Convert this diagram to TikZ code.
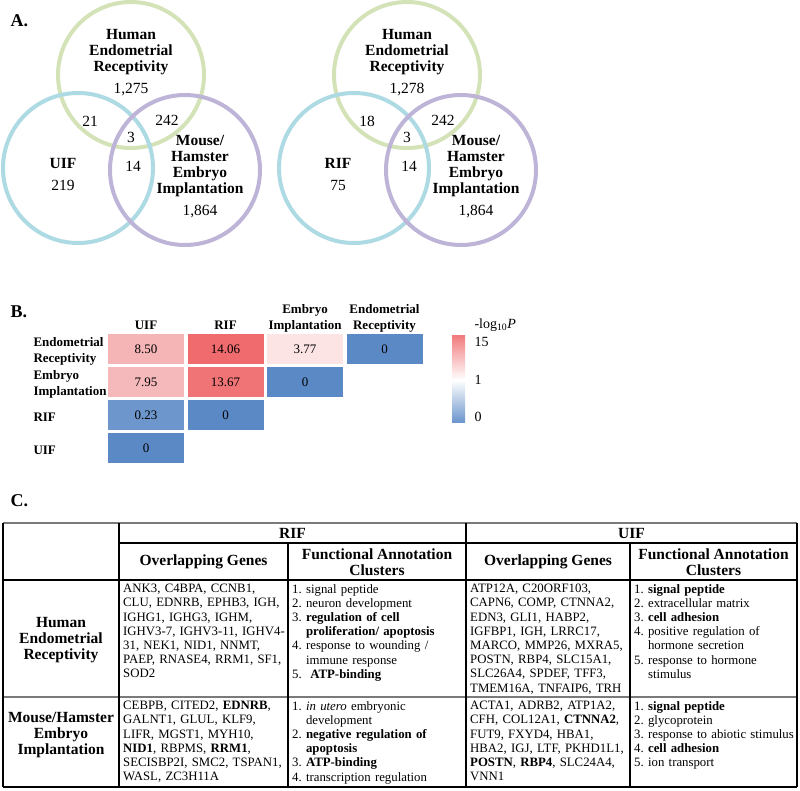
\documentclass[tikz,border=0pt]{standalone}
\usepackage{fontspec}
\setmainfont{Liberation Serif}
\usetikzlibrary{positioning}
\frenchspacing
\definecolor{herGreen}{HTML}{D4E2B8}
\definecolor{ifBlue}{HTML}{ADDAE3}
\definecolor{eiPurple}{HTML}{BEB4D7}
\definecolor{hmBlue}{HTML}{5B89C6}
\definecolor{hmBlueLt}{HTML}{6C96CC}
\definecolor{hmRed}{HTML}{F06B6E}
\definecolor{hmRedB}{HTML}{F07376}
\definecolor{hmPink}{HTML}{F5B4B6}
\definecolor{hmPinkB}{HTML}{F5B9BB}
\definecolor{hmPale}{HTML}{FCE3E4}
\definecolor{tabGray}{HTML}{7A7A7A}

\begin{document}
\begin{tikzpicture}[x=1pt,y=-1pt,
    panel/.style={anchor=west,font=\fontsize{18}{18}\selectfont\bfseries},
    vset/.style={circle,draw=#1,line width=4pt,inner sep=0pt},
    vname/.style={align=center,font=\fontsize{15.5}{16.3}\selectfont\bfseries},
    vnum/.style={font=\fontsize{15.5}{16}\selectfont},
    hlabel/.style={align=center,font=\fontsize{13}{16}\selectfont\bfseries},
    rlabel/.style={anchor=west,align=left,font=\fontsize{13}{16}\selectfont\bfseries},
    hcell/.style={fill=#1,minimum width=76pt,minimum height=30pt,inner sep=0pt,font=\fontsize{13}{15}\selectfont},
    keytext/.style={anchor=west,font=\fontsize{14}{15}\selectfont},
    tline/.style={line width=1.3pt},
    gline/.style={line width=2.2pt,draw=tabGray},
    thead/.style={align=center,font=\fontsize{15.5}{16}\selectfont\bfseries},
    cellbox/.style={anchor=north west,inner sep=0pt,text width=200pt,align=left,font=\fontsize{12.8}{14.2}\selectfont}]
\useasboundingbox (0,0) rectangle (800,790);

% panel A: venn diagrams
\node[panel] (labA) at (7,21) {A.};
\node[vset=herGreen,minimum size=146pt] (uHer) at (131,75) {};
\node[vset=ifBlue,minimum size=150pt] (uIf) at (78,168) {};
\node[vset=eiPurple,minimum size=150pt] (uEi) at (185,170) {};
\node[vname] (uHerName) at (131,52) {Human\\Endometrial\\Receptivity};
\node[vnum] (uHerNum) at (131,90) {1,275};
\node[vname] (uIfName) at (63,163) {UIF};
\node[vnum] (uIfNum) at (63,185) {219};
\node[vname] (uEiName) at (200,166) {Mouse/\\Hamster\\Embryo\\Implantation};
\node[vnum] (uEiNum) at (200,212) {1,864};
\node[vnum] (uHerIf) at (90,121) {21};
\node[vnum] (uHerEi) at (167,120) {242};
\node[vnum] (uAll) at (131,137) {3};
\node[vnum] (uIfEi) at (133,166) {14};

\node[vset=herGreen,minimum size=146pt] (rHer) at (407,75) {};
\node[vset=ifBlue,minimum size=150pt] (rIf) at (354,168) {};
\node[vset=eiPurple,minimum size=150pt] (rEi) at (461,170) {};
\node[vname] (rHerName) at (407,52) {Human\\Endometrial\\Receptivity};
\node[vnum] (rHerNum) at (407,90) {1,278};
\node[vname] (rIfName) at (338,163) {RIF};
\node[vnum] (rIfNum) at (338,185) {75};
\node[vname] (rEiName) at (476,166) {Mouse/\\Hamster\\Embryo\\Implantation};
\node[vnum] (rEiNum) at (476,212) {1,864};
\node[vnum] (rHerIf) at (367,121) {18};
\node[vnum] (rHerEi) at (443,120) {242};
\node[vnum] (rAll) at (407,137) {3};
\node[vnum] (rIfEi) at (409,166) {14};

% panel B: heatmap
\node[panel] (labB) at (7,312) {B.};
\node[hlabel] (colUif) at (146,325) {UIF};
\node[hlabel] (colRif) at (225.5,325) {RIF};
\node[hlabel] (colEi) at (305,318) {Embryo\\Implantation};
\node[hlabel] (colEr) at (384.5,318) {Endometrial\\Receptivity};
\node[rlabel] (rowEr) at (30,351) {Endometrial\\Receptivity};
\node[rlabel] (rowEi) at (30,384) {Embryo\\Implantation};
\node[rlabel] (rowRif) at (30,417) {RIF};
\node[rlabel] (rowUif) at (30,450) {UIF};
\node[hcell=hmPink] (erUif) at (146,349) {8.50};
\node[hcell=hmRed] (erRif) at (225.5,349) {14.06};
\node[hcell=hmPale] (erEi) at (305,349) {3.77};
\node[hcell=hmBlue] (erEr) at (384.5,349) {0};
\node[hcell=hmPinkB] (eiUif) at (146,382) {7.95};
\node[hcell=hmRedB] (eiRif) at (225.5,382) {13.67};
\node[hcell=hmBlue] (eiEi) at (305,382) {0};
\node[hcell=hmBlueLt] (rifUif) at (146,415) {0.23};
\node[hcell=hmBlue] (rifRif) at (225.5,415) {0};
\node[hcell=hmBlue] (uifUif) at (146,448) {0};
\shade[top color=hmRed!90,bottom color=white] (452,335) rectangle (465,380);
\shade[top color=white,bottom color=hmBlueLt] (452,380) rectangle (465,422);
\node[keytext] (keyTitle) at (471,325) {-log\textsubscript{10}\textit{P}};
\node[keytext] (keyHigh) at (471,342) {15};
\node[keytext] (keyMid) at (471,380) {1};
\node[keytext] (keyLow) at (471,417) {0};

% panel C: table
\node[panel] (labC) at (7,501) {C.};
\draw[gline] (3,523) -- (797,523);
\draw[tline] (119,543) -- (797,543);
\draw[tline] (3,580) -- (797,580);
\draw[gline] (3,697) -- (797,697);
\draw[tline] (3,787) -- (797,787);
\draw[tline] (3,523) -- (3,787);
\draw[tline] (119,523) -- (119,787);
\draw[tline] (466,523) -- (466,787);
\draw[tline] (797,523) -- (797,787);
\draw[tline] (288,543) -- (288,787);
\draw[tline] (630,543) -- (630,787);

\node[thead] (hRif) at (292.5,533) {RIF};
\node[thead] (hUif) at (631.5,533) {UIF};
\node[thead] (hRifGenes) at (203.5,562) {Overlapping Genes};
\node[thead] (hRifClus) at (377,562) {Functional Annotation\\Clusters};
\node[thead] (hUifGenes) at (548,562) {Overlapping Genes};
\node[thead] (hUifClus) at (713.5,562) {Functional Annotation\\Clusters};
\node[thead] (sHer) at (61,640) {Human\\Endometrial\\Receptivity};
\node[thead] (sEi) at (61,735) {Mouse/Hamster\\Embryo\\Implantation};

\node[cellbox] (herRifGenes) at (123,584) {ANK3, C4BPA, CCNB1,\\
CLU, EDNRB, EPHB3, IGH,\\
IGHG1, IGHG3, IGHM,\\
IGHV3-7, IGHV3-11, IGHV4-\\
31, NEK1, NID1, NNMT,\\
PAEP, RNASE4, RRM1, SF1,\\
SOD2};
\node[cellbox] (herRifClus) at (292,584) {1. signal peptide\\
2. neuron development\\
3. \textbf{regulation of cell}\\
\hphantom{3. }\textbf{proliferation/ apoptosis}\\
4. response to wounding /\\
\hphantom{4. }immune response\\
5.\ \ \textbf{ATP-binding}};
\node[cellbox] (herUifGenes) at (470,584) {ATP12A, C20ORF103,\\
CAPN6, COMP, CTNNA2,\\
EDN3, GLI1, HABP2,\\
IGFBP1, IGH, LRRC17,\\
MARCO, MMP26, MXRA5,\\
POSTN, RBP4, SLC15A1,\\
SLC26A4, SPDEF, TFF3,\\
TMEM16A, TNFAIP6, TRH};
\node[cellbox] (herUifClus) at (634,584) {1. \textbf{signal peptide}\\
2. extracellular matrix\\
3. \textbf{cell adhesion}\\
4. positive regulation of\\
\hphantom{4. }hormone secretion\\
5. response to hormone\\
\hphantom{5. }stimulus};

\node[cellbox] (eiRifGenes) at (123,701) {CEBPB, CITED2, \textbf{EDNRB},\\
GALNT1, GLUL, KLF9,\\
LIFR, MGST1, MYH10,\\
\textbf{NID1}, RBPMS, \textbf{RRM1},\\
SECISBP2I, SMC2, TSPAN1,\\
WASL, ZC3H11A};
\node[cellbox] (eiRifClus) at (292,701) {1. \textit{in utero} embryonic\\
\hphantom{1. }development\\
2. \textbf{negative regulation of}\\
\hphantom{2. }\textbf{apoptosis}\\
3. \textbf{ATP-binding}\\
4. transcription regulation};
\node[cellbox] (eiUifGenes) at (470,701) {ACTA1, ADRB2, ATP1A2,\\
CFH, COL12A1, \textbf{CTNNA2},\\
FUT9, FXYD4, HBA1,\\
HBA2, IGJ, LTF, PKHD1L1,\\
\textbf{POSTN}, \textbf{RBP4}, SLC24A4,\\
VNN1};
\node[cellbox] (eiUifClus) at (634,701) {1. \textbf{signal peptide}\\
2. glycoprotein\\
3. response to abiotic stimulus\\
4. \textbf{cell adhesion}\\
5. ion transport};
\end{tikzpicture}
\end{document}
